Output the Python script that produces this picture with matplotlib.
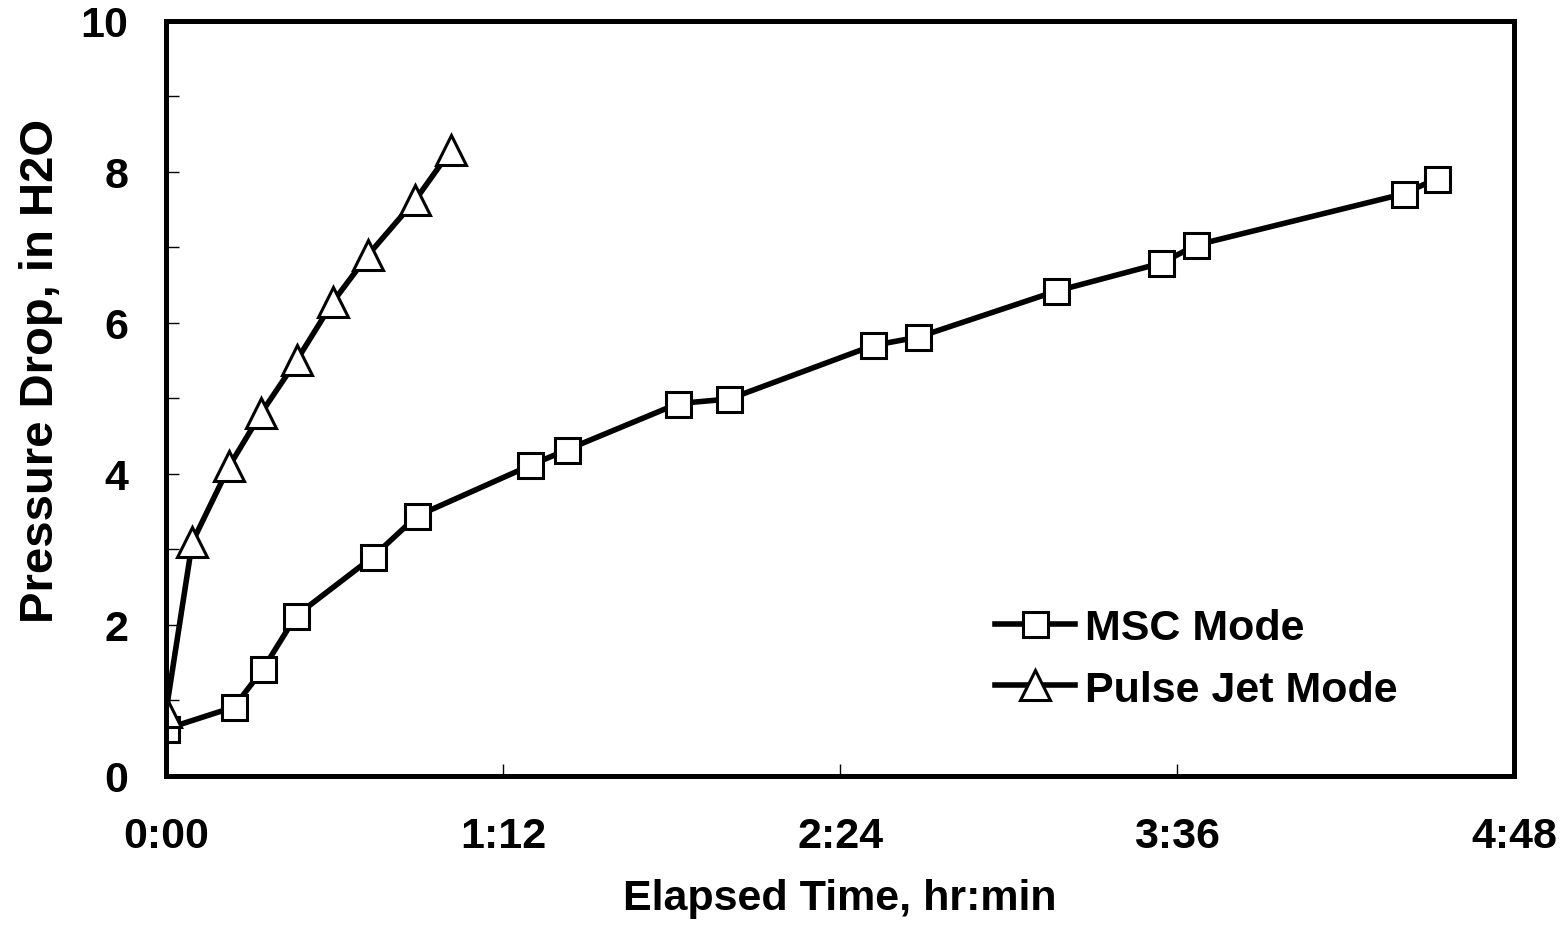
import numpy as np
import matplotlib
matplotlib.use("Agg")
import matplotlib.pyplot as plt
from matplotlib.ticker import FuncFormatter, MultipleLocator

plt.rcParams['font.family'] = ['Liberation Sans', 'DejaVu Sans']
plt.rcParams['font.weight'] = 'bold'

# elapsed time in minutes, pressure drop in inches of water
msc_t = [0, 14.5, 20.7, 27.8, 44.2, 53.6, 77.8, 85.7, 109.4, 120.3,
         151.1, 160.7, 190.2, 212.6, 220.1, 264.5, 271.4]
msc_dp = [0.62, 0.91, 1.41, 2.12, 2.90, 3.44, 4.11, 4.32, 4.93, 4.99,
          5.70, 5.81, 6.42, 6.79, 7.03, 7.71, 7.91]

pj_t = [0, 5.6, 13.5, 20.3, 28.0, 35.7, 43.2, 53.2, 60.9]
pj_dp = [0.85, 3.09, 4.10, 4.80, 5.51, 6.28, 6.90, 7.62, 8.29]

xticks = [0, 72, 144, 216, 288]

fig = plt.figure(figsize=(15.66, 9.45), dpi=100)
ax = fig.add_axes([0.106, 0.178, 0.861, 0.799])

ax.plot(msc_t, msc_dp, color='black', lw=4, marker='s', ms=18,
        mfc='white', mec='black', mew=2.2, label='MSC Mode')
ax.plot(pj_t, pj_dp, color='black', lw=4, marker='^', ms=21,
        mfc='white', mec='black', mew=2.2, label='Pulse Jet Mode')

ax.set_xlim(0, 288)
ax.set_ylim(0, 10)
ax.set_xticks(xticks)
ax.xaxis.set_major_formatter(FuncFormatter(lambda v, p: "%d:%02d" % (int(v) // 60, int(v) % 60)))
ax.yaxis.set_major_locator(MultipleLocator(2))
ax.yaxis.set_minor_locator(MultipleLocator(1))

ax.tick_params(axis='both', which='both', direction='in', width=1, length=9,
               labelsize=31)
ax.tick_params(axis='x', pad=29)
ax.tick_params(axis='y', pad=27)
for s in ax.spines.values():
    s.set_linewidth(3.6)

ax.set_xlabel('Elapsed Time, hr:min', fontsize=31, fontweight='bold', labelpad=16)
ax.set_ylabel('Pressure Drop, in H2O', fontsize=34, fontweight='bold', labelpad=13)
ax.yaxis.label.set_y(0.538)

ax.legend(loc='center left', bbox_to_anchor=(0.615, 0.155), frameon=False,
          fontsize=31, numpoints=1, handlelength=1.86, handletextpad=0.23,
          labelspacing=0.5, borderpad=0, borderaxespad=0)

fig.savefig('out.png', dpi=100)
